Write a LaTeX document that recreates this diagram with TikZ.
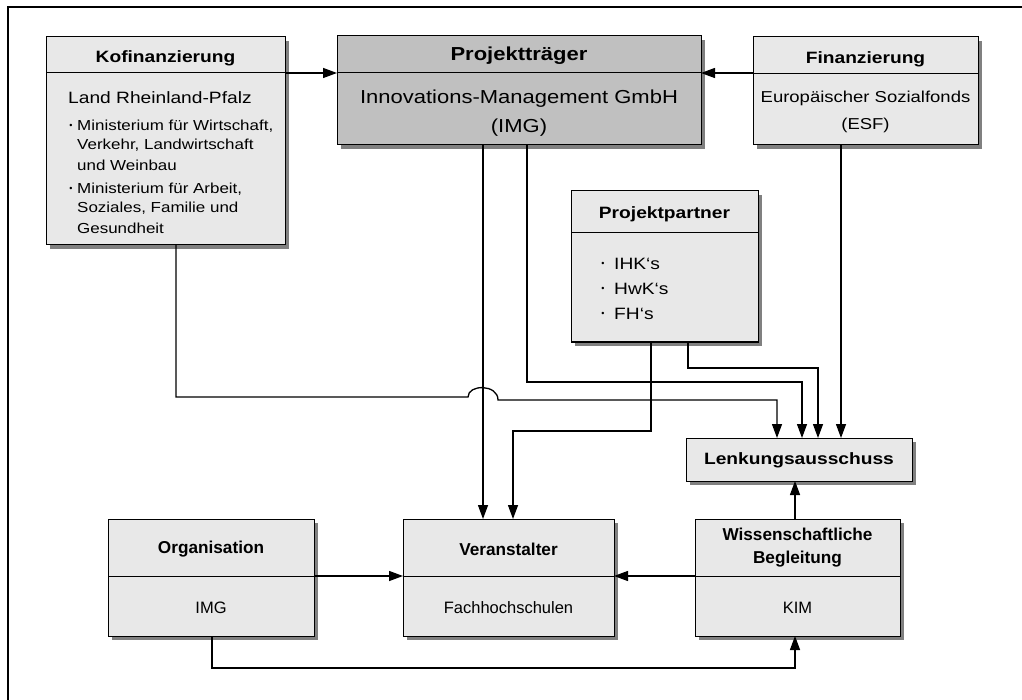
\documentclass[tikz,border=0pt]{standalone}
\usepackage{fontspec}
\setmainfont{Liberation Sans}
\newfontfamily\widefont[FakeStretch=1.17]{Liberation Sans}
\usetikzlibrary{arrows.meta,fit,shadows}
\definecolor{boxgray}{HTML}{E8E8E8}
\definecolor{darkbox}{HTML}{C0C0C0}
\definecolor{shadowgray}{HTML}{808080}
\tikzset{
  box/.style={draw=black, line width=1pt, fill=boxgray, inner sep=0pt, outer sep=0pt,
    drop shadow={shadow xshift=4pt, shadow yshift=-4pt, fill=shadowgray, opacity=1}},
  hd/.style={font=\widefont\fontsize{16.4}{19}\selectfont\bfseries, inner sep=0pt},
  tx/.style={font=\widefont\fontsize{16.4}{19}\selectfont, inner sep=0pt},
  fintx/.style={font=\widefont\fontsize{15.8}{19}\selectfont, inner sep=0pt},
  big/.style={font=\widefont\fontsize{18.8}{22}\selectfont, inner sep=0pt},
  bighd/.style={font=\widefont\fontsize{18.8}{22}\selectfont\bfseries, inner sep=0pt},
  sm/.style={font=\widefont\fontsize{14.5}{17}\selectfont, inner sep=0pt, anchor=west},
  bhd/.style={font=\fontsize{17.2}{23}\selectfont\bfseries, inner sep=0pt},
  btx/.style={font=\fontsize{16.5}{19}\selectfont, inner sep=0pt},
  dot/.style={font=\fontsize{9}{9}\selectfont, inner sep=0pt},
  arr/.style={line width=1.3pt, -{Triangle[length=14pt,width=10pt]}},
  sep/.style={line width=1pt}
}
\begin{document}
\begin{tikzpicture}[x=1pt,y=-1pt]
\useasboundingbox (0,0) rectangle (1022,700);
\draw[line width=2pt] (8,7) rectangle (1040,720);

% boxes
\node[box, fit={(46,37) (285,245)}] (kof) {};
\node[box, fill=darkbox, fit={(337,36) (701,145)}] (proj) {};
\node[box, fit={(753,37) (978,145)}] (fin) {};
\node[box, fit={(571,191) (758,342)}] (part) {};
\node[box, fit={(686,438) (912,481)}] (lenk) {};
\node[box, fit={(108,519) (314,636)}] (org) {};
\node[box, fit={(403,519) (614,636)}] (ver) {};
\node[box, fit={(695,519) (900,636)}] (wiss) {};

% header separators
\draw[sep] (46,73) -- (285,73);
\draw[sep] (337,73) -- (701,73);
\draw[sep] (753,74) -- (978,74);
\draw[sep] (571,233) -- (758,233);
\draw[sep] (108,576) -- (314,576);
\draw[sep] (403,576) -- (614,576);
\draw[sep] (695,576) -- (900,576);

% texts: Kofinanzierung
\node[hd] (kofh) at (165.5,58) {Kofinanzierung};
\node[tx, anchor=west] (kof1) at (68,98) {Land Rheinland-Pfalz};
\node[dot] (kb1) at (71,126) {•};
\node[sm] (kl1) at (77,126) {Ministerium für Wirtschaft,};
\node[sm] (kl2) at (77,145) {Verkehr, Landwirtschaft};
\node[sm] (kl3) at (77,165) {und Weinbau};
\node[dot] (kb2) at (71,189) {•};
\node[sm] (kl4) at (77,189) {Ministerium für Arbeit,};
\node[sm] (kl5) at (77,208) {Soziales, Familie und};
\node[sm] (kl6) at (77,228) {Gesundheit};

% Projekttraeger
\node[bighd] (projh) at (519,56) {Projektträger};
\node[big] (proj1) at (519,99) {Innovations-Management GmbH};
\node[big] (proj2) at (519,128) {(IMG)};

% Finanzierung
\node[hd] (finh) at (865.5,59) {Finanzierung};
\node[fintx] (fin1) at (865.5,98) {Europäischer Sozialfonds};
\node[fintx] (fin2) at (865.5,125) {(ESF)};

% Projektpartner
\node[hd] (parth) at (664.5,214) {Projektpartner};
\node[dot] (pb1) at (603,264) {•};
\node[tx, anchor=west] (pl1) at (614,264) {IHK‘s};
\node[dot] (pb2) at (603,289) {•};
\node[tx, anchor=west] (pl2) at (614,289) {HwK‘s};
\node[dot] (pb3) at (603,314) {•};
\node[tx, anchor=west] (pl3) at (614,314) {FH‘s};

% Lenkungsausschuss
\node[hd] (lenkh) at (799,460) {Lenkungsausschuss};

% bottom row
\node[bhd] (orgh) at (211,549) {Organisation};
\node[btx] (org1) at (211,608) {IMG};
\node[bhd] (verh) at (508.5,549) {Veranstalter};
\node[btx] (ver1) at (508.5,608) {Fachhochschulen};
\node[bhd, align=center] (wissh) at (797.5,548) {Wissenschaftliche\\Begleitung};
\node[btx] (wiss1) at (797.5,608) {KIM};

% connector coordinates
\coordinate (hy) at (0,73);
\coordinate (my) at (0,576);
\coordinate (xa) at (483,0);
\coordinate (c1) at (527,382);
\coordinate (c1b) at (802,382);
\coordinate (c2) at (651,431);
\coordinate (c2b) at (513,431);
\coordinate (c3) at (688,368);
\coordinate (c3b) at (818,368);
\coordinate (k1) at (176,397);
\coordinate (j1) at (468,397);
\coordinate (j2) at (498,400);
\coordinate (k2) at (777,400);
\coordinate (f1) at (841,0);
\coordinate (w1) at (795,0);
\coordinate (b1) at (212,668);
\coordinate (b2) at (795,668);

% connectors
\draw[arr] (kof.east |- hy) -- (proj.west |- hy);
\draw[arr] (fin.west |- hy) -- (proj.east |- hy);
\draw[arr] (proj.south -| xa) -- (ver.north -| xa);
\draw[arr] (proj.south -| c1) -- (c1) -- (c1b) -- (lenk.north -| c1b);
\draw[arr] (part.south -| c2) -- (c2) -- (c2b) -- (ver.north -| c2b);
\draw[arr] (part.south -| c3) -- (c3) -- (c3b) -- (lenk.north -| c3b);
\draw[arr] (kof.south -| k1) -- (k1) -- (j1) .. controls (468,384) and (498,384) .. (j2) -- (k2) -- (lenk.north -| k2);
\draw[arr] (fin.south -| f1) -- (lenk.north -| f1);
\draw[arr] (org.east |- my) -- (ver.west |- my);
\draw[arr] (wiss.west |- my) -- (ver.east |- my);
\draw[arr] (wiss.north -| w1) -- (lenk.south -| w1);
\draw[arr] (org.south -| b1) -- (b1) -- (b2) -- (wiss.south -| b2);
\end{tikzpicture}
\end{document}
